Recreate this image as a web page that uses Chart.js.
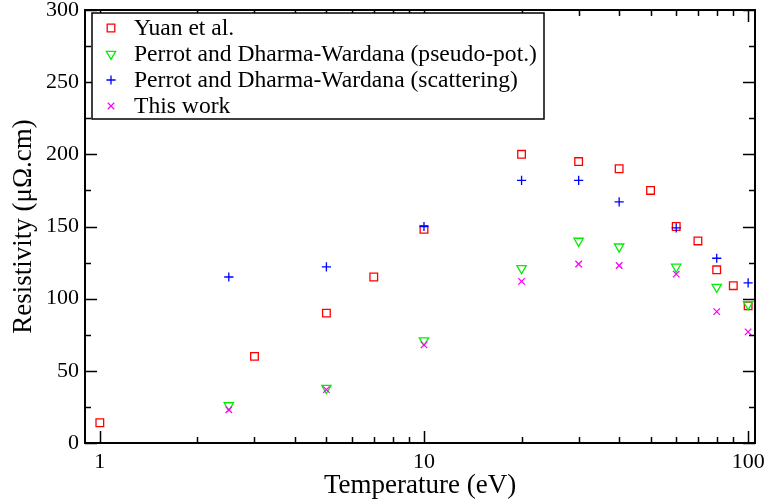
<!DOCTYPE html>
<html>
<head>
<meta charset="utf-8">
<script src="https://cdn.jsdelivr.net/npm/chart.js@4/dist/chart.umd.min.js"></script>
<style>
  html, body { margin: 0; padding: 0; background: #fff; }
  #wrap { width: 768px; height: 504px; }
</style>
</head>
<body>
<div id="wrap"><canvas id="resist"></canvas></div>
<script>
// data (temperature in eV, resistivity in µΩ.cm)
const yuanT = [1, 3, 5, 7, 10, 20, 30, 40, 50, 60, 70, 80, 90, 100];
const yuanR = [14, 60, 90, 115, 148, 200, 195, 190, 175, 150, 140, 120, 109, 95];

const pseudoT = [2.5, 5, 10, 20, 30, 40, 60, 80, 100];
const pseudoR = [26, 38, 71, 121, 140, 136, 122, 108, 96];

const scatT = [2.5, 5, 10, 20, 30, 40, 60, 80, 100];
const scatR = [115, 122, 150, 182, 182, 167, 149, 128, 111];

const workT = [2.5, 5, 10, 20, 30, 40, 60, 80, 100];
const workR = [23, 37, 68, 112, 124, 123, 117, 91, 77];

const xTicks = [1, 2, 3, 4, 5, 6, 7, 8, 9, 10, 20, 30, 40, 50, 60, 70, 80, 90, 100];
const xLabels = [1, 10, 100];
const yMinor = [25, 75, 125, 175, 225, 275];

const FONT = '"Liberation Serif", "Times New Roman", serif';

const pts = (xs, ys) => xs.map((x, i) => ({ x: x, y: ys[i] }));

const series = [
  { label: 'Yuan et al.', data: pts(yuanT, yuanR), color: '#ff0000', style: 'rect', r: 5.4, rot: 0 },
  { label: 'Perrot and Dharma-Wardana (pseudo-pot.)', data: pts(pseudoT, pseudoR), color: '#00ee00', style: 'triangle', r: 5.4, rot: 180 },
  { label: 'Perrot and Dharma-Wardana (scattering)', data: pts(scatT, scatR), color: '#0000ff', style: 'cross', r: 4.6, rot: 0 },
  { label: 'This work', data: pts(workT, workR), color: '#ff00ff', style: 'crossRot', r: 4.6, rot: 0 },
];

// frame + inward ticks on all four sides
const frameTicks = {
  id: 'frameTicks',
  afterDatasetsDraw(chart) {
    const { ctx, chartArea: a, scales } = chart;
    const x = scales.x, y = scales.y;
    ctx.save();
    ctx.strokeStyle = '#000';
    ctx.lineWidth = 1.5;
    ctx.beginPath();
    xTicks.forEach(v => {
      const px = Math.round(x.getPixelForValue(v)) + 0.5;
      const len = xLabels.includes(v) ? 12 : 6;
      ctx.moveTo(px, a.bottom); ctx.lineTo(px, a.bottom - len);
      ctx.moveTo(px, a.top); ctx.lineTo(px, a.top + len);
    });
    for (let v = 0; v <= 300; v += 50) {
      const py = Math.round(y.getPixelForValue(v)) + 0.5;
      ctx.moveTo(a.left, py); ctx.lineTo(a.left + 12, py);
      ctx.moveTo(a.right, py); ctx.lineTo(a.right - 12, py);
    }
    yMinor.forEach(v => {
      const py = Math.round(y.getPixelForValue(v)) + 0.5;
      ctx.moveTo(a.left, py); ctx.lineTo(a.left + 6, py);
      ctx.moveTo(a.right, py); ctx.lineTo(a.right - 6, py);
    });
    ctx.stroke();
    ctx.lineWidth = 2;
    ctx.strokeRect(a.left, a.top, a.right - a.left, a.bottom - a.top);
    ctx.restore();
  }
};

// boxed legend inside the plot, top-left
const boxLegend = {
  id: 'boxLegend',
  afterDraw(chart) {
    const { ctx, chartArea: a } = chart;
    const left = a.left + 7, top = a.top + 3;
    const w = 452, h = 106;
    ctx.save();
    ctx.fillStyle = '#fff';
    ctx.fillRect(left, top, w, h);
    ctx.strokeStyle = '#000';
    ctx.lineWidth = 1.5;
    ctx.strokeRect(left, top, w, h);
    ctx.font = '23.6px ' + FONT;
    ctx.textBaseline = 'middle';
    series.forEach((s, i) => {
      const cy = top + 15 + i * 26;
      ctx.strokeStyle = s.color;
      ctx.fillStyle = 'rgba(0,0,0,0)';
      ctx.lineWidth = 1.3;
      Chart.helpers.drawPoint(ctx, { pointStyle: s.style, radius: s.r, rotation: s.rot, borderWidth: 1.3 }, left + 19, cy);
      ctx.fillStyle = '#000';
      ctx.fillText(s.label, left + 42, cy + 1);
    });
    ctx.restore();
  }
};

new Chart(
  document.getElementById('resist'),
  {
    type: 'scatter',
    data: {
      datasets: series.map((s, i) => ({
        label: s.label,
        data: s.data,
        order: -i,
        pointStyle: s.style,
        pointRadius: s.r,
        pointHoverRadius: s.r,
        pointRotation: s.rot,
        borderColor: s.color,
        backgroundColor: 'rgba(0,0,0,0)',
        borderWidth: 1.3,
        showLine: false
      }))
    },
    options: {
      responsive: true,
      maintainAspectRatio: false,
      animation: false,
      events: [],
      layout: { padding: { top: 10, right: 13, left: 0, bottom: 0 } },
      plugins: {
        legend: { display: false },
        tooltip: { enabled: false }
      },
      scales: {
        x: {
          type: 'logarithmic',
          min: 0.9,
          max: 105,
          afterBuildTicks: scale => { scale.ticks = xTicks.map(v => ({ value: v })); },
          afterFit: scale => {
            scale.height = 61;
            scale.paddingLeft = 0;
            scale.paddingRight = 0;
          },
          grid: { display: false, drawTicks: false },
          border: { display: false },
          ticks: {
            autoSkip: false,
            maxRotation: 0,
            padding: 6,
            color: '#000',
            font: { family: FONT, size: 22 },
            callback: v => xLabels.includes(v) ? String(v) : ''
          },
          title: {
            display: true,
            text: 'Temperature (eV)',
            color: '#000',
            font: { family: FONT, size: 27 },
            padding: { top: 0, bottom: 2 }
          }
        },
        y: {
          min: 0,
          max: 300,
          afterFit: scale => {
            scale.width = 85;
            scale.paddingTop = 0;
            scale.paddingBottom = 0;
          },
          grid: { display: false, drawTicks: false },
          border: { display: false },
          ticks: {
            stepSize: 50,
            padding: 6,
            color: '#000',
            font: { family: FONT, size: 22 }
          },
          title: {
            display: true,
            text: 'Resistivity (μΩ.cm)',
            color: '#000',
            font: { family: FONT, size: 27 },
            padding: { top: 8, bottom: 0 }
          }
        }
      }
    },
    plugins: [frameTicks, boxLegend]
  }
);
</script>
</body>
</html>
